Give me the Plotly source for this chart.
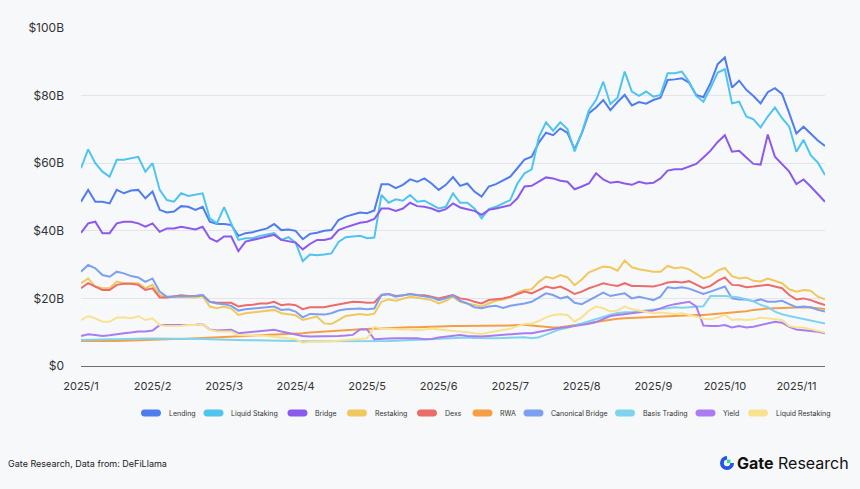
import datetime as dt
import plotly.graph_objects as go

# ---------------- data (values in $B, sampled every 3 days) ----------------
start = dt.date(2025, 1, 1)
dates = [(start + dt.timedelta(days=3 * i)).isoformat() for i in range(105)]

tick_labels = ["2025/1", "2025/2", "2025/3", "2025/4", "2025/5", "2025/6",
               "2025/7", "2025/8", "2025/9", "2025/10", "2025/11"]
tick_dates = [dates[10 * i] for i in range(len(tick_labels))]

y_ticks = [0, 20, 40, 60, 80, 100]
y_tick_labels = ["$0", "$20B", "$40B", "$60B", "$80B", "$100B"]

lending = [48.6, 52.1, 48.6, 48.6, 48.1, 52.1, 51.1, 51.9, 52.1, 49.6, 51.6, 46.2, 45.4, 45.7, 47.3, 47.1, 46.2, 47.1, 42.7, 42.0, 42.0,
           41.7, 38.5, 39.3, 39.6, 40.2, 40.7, 42.0, 40.2, 40.4, 40.0, 37.5, 39.1, 39.4, 40.0, 40.2, 43.2, 44.2, 44.7, 45.4, 45.2, 46.0,
           53.8, 53.8, 52.6, 53.6, 55.2, 54.5, 55.5, 54.0, 52.1, 53.6, 55.9, 53.3, 54.0, 51.6, 50.1, 53.1, 53.8, 54.8, 56.0, 58.5, 61.1,
           61.9, 66.1, 69.0, 68.3, 70.3, 69.0, 64.1, 68.8, 74.8, 76.5, 78.7, 75.7, 78.1, 80.2, 77.1, 78.1, 77.6, 78.7, 79.4, 84.6, 84.8,
           85.1, 83.8, 80.2, 79.5, 83.7, 89.3, 91.3, 82.4, 84.4, 81.7, 79.9, 77.7, 81.0, 82.2, 80.5, 74.8, 68.8, 70.8, 68.6, 66.7, 65.1]

liquid_staking = [58.5, 64.1, 60.0, 57.5, 56.0, 61.0, 61.0, 61.4, 61.9, 57.5, 60.0, 52.1, 49.1, 48.6, 51.1, 50.3, 50.6, 51.1, 43.7, 42.2, 47.0,
                  42.0, 37.3, 37.8, 37.8, 38.5, 38.8, 39.3, 37.3, 38.1, 36.5, 31.0, 33.0, 32.8, 33.0, 33.3, 36.7, 38.1, 38.3, 38.5, 37.8, 38.0,
                  50.6, 48.3, 49.3, 48.9, 50.6, 48.6, 48.9, 47.8, 46.6, 47.1, 51.1, 48.3, 48.3, 46.6, 43.7, 46.4, 47.1, 48.1, 49.1, 54.0, 57.0,
                  58.2, 67.7, 72.1, 69.6, 72.1, 70.1, 63.5, 69.0, 75.7, 78.7, 84.1, 77.5, 79.4, 87.1, 81.2, 79.9, 81.2, 79.7, 80.2, 86.6, 86.6,
                  87.1, 84.1, 79.9, 78.2, 82.2, 86.8, 87.8, 77.7, 78.2, 73.8, 73.0, 70.6, 73.8, 76.5, 73.3, 70.8, 63.4, 66.9, 62.4, 60.2, 56.5]

bridge = [39.4, 42.2, 42.7, 39.3, 39.3, 42.2, 42.7, 42.7, 42.2, 41.2, 42.2, 39.7, 40.7, 40.7, 41.2, 40.7, 40.4, 41.2, 37.8, 36.8, 38.3,
          38.3, 34.0, 36.8, 37.3, 37.8, 38.3, 38.8, 37.3, 36.8, 36.5, 34.5, 36.1, 37.3, 37.3, 37.8, 40.2, 41.0, 41.7, 42.4, 42.7, 43.5,
          46.6, 46.6, 45.9, 46.6, 48.3, 47.3, 47.1, 46.6, 45.7, 46.4, 48.1, 46.9, 46.4, 45.9, 44.7, 46.2, 46.6, 47.1, 47.6, 49.6, 53.1,
          53.3, 54.5, 55.8, 55.5, 54.8, 54.5, 52.3, 53.1, 54.0, 57.0, 55.2, 54.2, 54.5, 54.0, 53.6, 54.5, 54.0, 54.2, 55.5, 57.8, 58.2,
          58.2, 59.0, 59.8, 61.7, 63.7, 66.3, 68.3, 63.4, 63.7, 61.7, 59.8, 59.6, 68.5, 61.9, 59.6, 57.5, 53.8, 55.2, 53.1, 50.9, 48.6]

restaking = [24.5, 25.9, 23.5, 23.0, 23.0, 25.0, 24.5, 24.5, 24.5, 23.0, 24.0, 21.0, 20.3, 20.5, 20.5, 20.5, 20.3, 20.7, 17.6, 17.1, 17.6,
             17.0, 15.1, 15.6, 15.8, 16.1, 16.4, 16.6, 15.6, 15.4, 15.0, 13.6, 14.1, 14.6, 12.6, 12.4, 13.6, 14.8, 15.1, 15.4, 15.1, 15.5,
             19.0, 19.7, 19.3, 19.9, 20.5, 20.2, 19.9, 19.5, 18.5, 19.3, 20.5, 19.0, 18.5, 18.0, 17.6, 18.5, 19.3, 19.7, 20.3, 21.7, 22.5,
             22.7, 24.9, 26.4, 25.9, 26.9, 26.2, 23.9, 25.6, 27.7, 28.6, 29.4, 29.2, 28.2, 31.2, 29.2, 28.6, 28.2, 27.9, 27.9, 29.6, 28.9,
             29.2, 28.6, 27.2, 25.9, 26.6, 28.2, 29.0, 26.6, 25.9, 26.2, 25.2, 25.0, 25.9, 25.2, 24.5, 22.7, 22.0, 22.5, 22.3, 20.5, 19.7]

dexs = [23.0, 24.5, 23.5, 22.5, 22.5, 24.0, 24.3, 24.3, 24.0, 22.5, 23.0, 20.3, 20.3, 20.5, 20.9, 20.7, 20.7, 21.0, 19.0, 18.7, 18.7,
        18.7, 17.6, 18.0, 18.1, 18.5, 18.5, 19.0, 18.0, 18.3, 18.0, 16.8, 17.4, 17.4, 17.4, 17.8, 18.2, 18.7, 19.0, 18.9, 18.7, 18.8,
        21.0, 21.3, 20.7, 20.9, 21.3, 21.0, 20.9, 20.5, 20.0, 20.5, 21.0, 20.0, 19.7, 19.0, 18.5, 19.5, 19.7, 20.0, 20.5, 21.3, 22.0,
        21.5, 22.5, 23.5, 23.0, 23.5, 22.5, 21.3, 22.0, 23.0, 23.7, 24.5, 24.0, 23.7, 24.5, 23.7, 23.7, 23.5, 23.5, 24.0, 24.7, 24.9,
        24.7, 25.1, 24.0, 23.0, 23.7, 25.2, 26.2, 24.0, 23.9, 23.3, 23.5, 23.7, 24.0, 23.5, 23.0, 21.0, 19.7, 20.0, 19.5, 18.7, 18.0]

rwa = [7.4, 7.5, 7.5, 7.4, 7.3, 7.4, 7.5, 7.6, 7.6, 7.7, 7.8, 7.8, 7.9, 8.0, 8.0, 8.1, 8.1, 8.2, 8.3, 8.3, 8.4,
       8.5, 8.6, 8.7, 8.8, 8.9, 9.0, 9.1, 9.2, 9.3, 9.4, 9.7, 9.9, 10.0, 10.1, 10.2, 10.3, 10.5, 10.7, 10.9, 11.0, 11.1,
       11.3, 11.4, 11.4, 11.5, 11.5, 11.5, 11.6, 11.6, 11.7, 11.7, 11.8, 11.8, 11.8, 11.8, 11.9, 11.9, 12.0, 12.0, 12.0, 12.1, 12.2,
       12.0, 11.8, 11.5, 11.4, 11.5, 11.8, 12.1, 12.6, 12.9, 13.2, 13.5, 13.8, 14.0, 14.1, 14.2, 14.4, 14.5, 14.6, 14.7, 14.8, 15.0,
       15.0, 15.0, 15.1, 15.1, 15.3, 15.4, 15.6, 15.8, 15.9, 16.2, 16.6, 16.9, 17.0, 17.1, 17.2, 17.3, 17.3, 17.4, 17.3, 17.1, 16.9]

canonical_bridge = [27.9, 29.9, 28.9, 26.9, 26.4, 27.9, 27.4, 26.6, 26.2, 24.9, 25.9, 22.0, 20.5, 20.5, 20.7, 20.7, 20.7, 21.0, 19.0, 18.5, 18.3,
                    17.8, 16.4, 16.8, 17.0, 17.3, 17.4, 17.6, 16.6, 16.8, 16.1, 14.4, 15.4, 15.2, 15.2, 15.6, 16.4, 16.8, 17.0, 17.0, 16.8, 17.0,
                    21.0, 21.3, 20.5, 20.9, 21.3, 20.9, 20.5, 20.3, 19.5, 20.0, 20.9, 19.3, 18.5, 17.4, 17.1, 17.6, 17.8, 17.2, 17.8, 18.1, 18.5,
                    19.0, 20.3, 21.5, 21.0, 20.0, 20.5, 18.7, 18.3, 19.5, 20.7, 21.7, 20.7, 21.0, 21.5, 20.0, 20.5, 20.0, 19.5, 20.5, 23.3, 23.0,
                    23.3, 22.9, 22.0, 21.3, 22.0, 22.7, 23.5, 20.0, 19.7, 19.7, 19.2, 19.7, 19.0, 19.0, 19.3, 18.3, 17.4, 17.6, 17.4, 16.6, 16.1]

basis_trading = [7.7, 7.8, 7.8, 7.9, 7.9, 7.9, 8.0, 8.0, 8.0, 8.1, 8.1, 8.1, 8.2, 8.2, 8.1, 8.1, 8.0, 8.0, 7.9, 7.8, 7.8,
                 7.7, 7.7, 7.6, 7.6, 7.6, 7.5, 7.5, 7.5, 7.4, 7.4, 7.3, 7.3, 7.3, 7.3, 7.3, 7.3, 7.4, 7.4, 7.4, 7.4, 7.3,
                 7.2, 7.4, 7.5, 7.6, 7.8, 7.8, 7.9, 8.0, 8.2, 8.3, 8.4, 8.5, 8.4, 8.3, 8.2, 8.2, 8.2, 8.3, 8.4, 8.5, 8.5,
                 8.2, 8.5, 9.3, 10.1, 10.9, 11.3, 11.9, 12.6, 13.3, 13.8, 14.5, 15.2, 15.7, 15.9, 15.9, 16.2, 16.5, 16.7, 16.9, 17.1, 17.4,
                 17.2, 17.4, 17.5, 17.7, 20.7, 20.8, 20.7, 20.5, 20.3, 19.7, 19.1, 18.1, 17.4, 16.1, 15.3, 14.8, 14.4, 13.9, 13.6, 13.1, 12.6]

yield_ = [8.9, 9.4, 9.2, 8.9, 9.1, 9.5, 9.7, 9.9, 10.2, 10.2, 10.5, 12.1, 12.1, 12.0, 12.1, 12.2, 12.2, 12.4, 10.8, 10.5, 10.5,
          10.7, 9.7, 9.9, 10.1, 10.2, 10.4, 10.7, 10.2, 9.7, 9.4, 8.9, 8.7, 8.7, 8.7, 8.7, 8.9, 9.0, 9.2, 10.8, 10.8, 7.9,
          7.9, 8.1, 8.2, 8.2, 8.3, 8.2, 7.9, 8.0, 8.4, 8.7, 9.0, 9.2, 8.9, 8.8, 8.7, 8.9, 9.1, 9.3, 9.5, 9.6, 9.7,
          9.7, 10.1, 10.7, 11.0, 11.3, 11.5, 11.8, 12.1, 12.5, 13.0, 14.0, 14.8, 15.1, 15.4, 15.6, 15.8, 16.1, 16.4, 17.0, 17.8, 18.3,
          18.7, 19.0, 17.6, 12.0, 11.8, 11.8, 12.1, 11.4, 11.8, 11.4, 11.6, 12.1, 12.6, 13.1, 12.8, 11.6, 10.8, 10.6, 10.3, 10.1, 9.7]

liquid_restaking = [13.6, 14.8, 14.1, 13.1, 13.1, 14.3, 14.4, 14.1, 14.8, 13.6, 14.1, 12.1, 11.8, 11.8, 11.9, 12.1, 12.1, 12.4, 10.7, 10.2, 10.2,
                    10.2, 9.2, 9.2, 9.1, 9.0, 8.9, 8.7, 8.5, 8.2, 7.9, 6.9, 7.2, 7.2, 7.2, 7.3, 7.5, 7.7, 7.9, 7.9, 8.2, 11.6,
                    11.1, 11.0, 10.8, 10.8, 10.8, 10.6, 10.8, 11.1, 10.8, 10.6, 10.6, 10.3, 10.0, 9.7, 9.5, 9.9, 10.3, 10.6, 11.0, 11.8, 12.4,
                    12.6, 13.3, 14.4, 15.1, 15.3, 15.1, 13.1, 14.4, 16.4, 17.6, 17.1, 16.1, 16.4, 17.6, 16.8, 16.4, 16.0, 15.6, 15.8, 15.6, 15.4,
                    15.6, 15.2, 14.6, 14.0, 13.8, 14.3, 15.2, 13.6, 13.8, 13.6, 13.8, 14.3, 14.1, 13.8, 13.6, 11.8, 11.4, 11.4, 10.8, 10.4, 9.9]

series_names = ["Lending", "Liquid Staking", "Bridge", "Restaking", "Dexs", "RWA",
                "Canonical Bridge", "Basis Trading", "Yield", "Liquid Restaking"]
series_values = [lending, liquid_staking, bridge, restaking, dexs, rwa,
                 canonical_bridge, basis_trading, yield_, liquid_restaking]

# ---------------- styling ----------------
colors = ["#4f7cef", "#4fc4ef", "#8b59ec", "#f0c85c", "#ec6b6b", "#f59f45",
          "#7c9ff1", "#7fd3ef", "#a97df0", "#f9e28f"]
BG = "#f7f8fa"
FONT = "Inter"

W, H = 860, 489
M_L, M_R, M_T, M_B = 81, 35, 28, 123
PW, PH = W - M_L - M_R, H - M_T - M_B


def px_to_paper_x(px):
    return (px - M_L) / PW


def px_to_paper_y(py):
    return (H - M_B - py) / PH


fig = go.Figure()
for name, vals, col in zip(series_names, series_values, colors):
    fig.add_trace(go.Scatter(
        x=dates, y=vals, name=name, mode="lines",
        line=dict(color=col, width=2),
        showlegend=False,
    ))

# ---------------- custom legend (pill + text) ----------------
legend_pill_centers = [151, 213.5, 297.5, 357, 427, 482.5, 533.5, 625, 705.5, 758]
legend_y = 413
pill_path = ("M -6.5,-3.5 L 6.5,-3.5 C 11.2,-3.5 11.2,3.5 6.5,3.5 "
             "L -6.5,3.5 C -11.2,3.5 -11.2,-3.5 -6.5,-3.5 Z")
shapes = []
annotations = []
for name, col, cx in zip(series_names, colors, legend_pill_centers):
    shapes.append(dict(
        type="path", xref="paper", yref="paper",
        xsizemode="pixel", ysizemode="pixel",
        xanchor=px_to_paper_x(cx), yanchor=px_to_paper_y(legend_y),
        path=pill_path, fillcolor=col, line=dict(width=0), layer="above",
    ))
    annotations.append(dict(
        text=name, xref="paper", yref="paper",
        x=px_to_paper_x(cx + 15.5), y=px_to_paper_y(legend_y),
        xanchor="left", yanchor="middle", showarrow=False,
        font=dict(family=FONT, size=7, color="#333333"),
    ))

# footer source text
annotations.append(dict(
    text="Gate Research, Data from: DeFiLlama",
    xref="paper", yref="paper",
    x=px_to_paper_x(6), y=px_to_paper_y(463),
    xanchor="left", yanchor="middle", showarrow=False,
    font=dict(family=FONT, size=9, color="#222222"),
))
# logo text
annotations.append(dict(
    text="<b>Gate</b> Research",
    xref="paper", yref="paper",
    x=px_to_paper_x(851), y=px_to_paper_y(463),
    xanchor="right", yanchor="middle", showarrow=False,
    font=dict(family=FONT, size=16, color="#111111"),
))

# logo icon
lx, ly = 727, 463
shapes.append(dict(type="circle", xref="paper", yref="paper",
                   xsizemode="pixel", ysizemode="pixel",
                   xanchor=px_to_paper_x(lx), yanchor=px_to_paper_y(ly),
                   x0=-7, x1=7, y0=-7, y1=7,
                   fillcolor="#2354e6", line=dict(width=0), layer="above"))
shapes.append(dict(type="circle", xref="paper", yref="paper",
                   xsizemode="pixel", ysizemode="pixel",
                   xanchor=px_to_paper_x(lx), yanchor=px_to_paper_y(ly),
                   x0=-3.2, x1=3.2, y0=-3.2, y1=3.2,
                   fillcolor=BG, line=dict(width=0), layer="above"))
shapes.append(dict(type="rect", xref="paper", yref="paper",
                   xsizemode="pixel", ysizemode="pixel",
                   xanchor=px_to_paper_x(lx), yanchor=px_to_paper_y(ly),
                   x0=0, x1=7.5, y0=0, y1=7.5,
                   fillcolor=BG, line=dict(width=0), layer="above"))
shapes.append(dict(type="rect", xref="paper", yref="paper",
                   xsizemode="pixel", ysizemode="pixel",
                   xanchor=px_to_paper_x(lx), yanchor=px_to_paper_y(ly),
                   x0=0, x1=3.4, y0=0, y1=3.4,
                   fillcolor="#17e6a1", line=dict(width=0), layer="above"))

fig.update_layout(
    width=W, height=H,
    margin=dict(l=M_L, r=M_R, t=M_T, b=M_B),
    paper_bgcolor=BG, plot_bgcolor=BG,
    font=dict(family=FONT, color="#333333"),
    showlegend=False,
    shapes=shapes,
    annotations=annotations,
    xaxis=dict(
        type="category", range=[0, len(dates) - 1],
        tickmode="array", tickvals=tick_dates, ticktext=tick_labels,
        showgrid=False, zeroline=False,
        showline=True, linecolor="#6e6e73", linewidth=1,
        ticks="", tickfont=dict(family=FONT, size=11, color="#333333"),
        ticklabelstandoff=10,
    ),
    yaxis=dict(
        range=[0, 100], tickmode="array", tickvals=y_ticks, ticktext=y_tick_labels,
        showgrid=True, gridcolor="#e2e4e8", gridwidth=1,
        zeroline=False, showline=False, ticks="",
        tickfont=dict(family=FONT, size=12, color="#333333"),
        ticklabelstandoff=16,
    ),
)

fig.write_html("out.html")
